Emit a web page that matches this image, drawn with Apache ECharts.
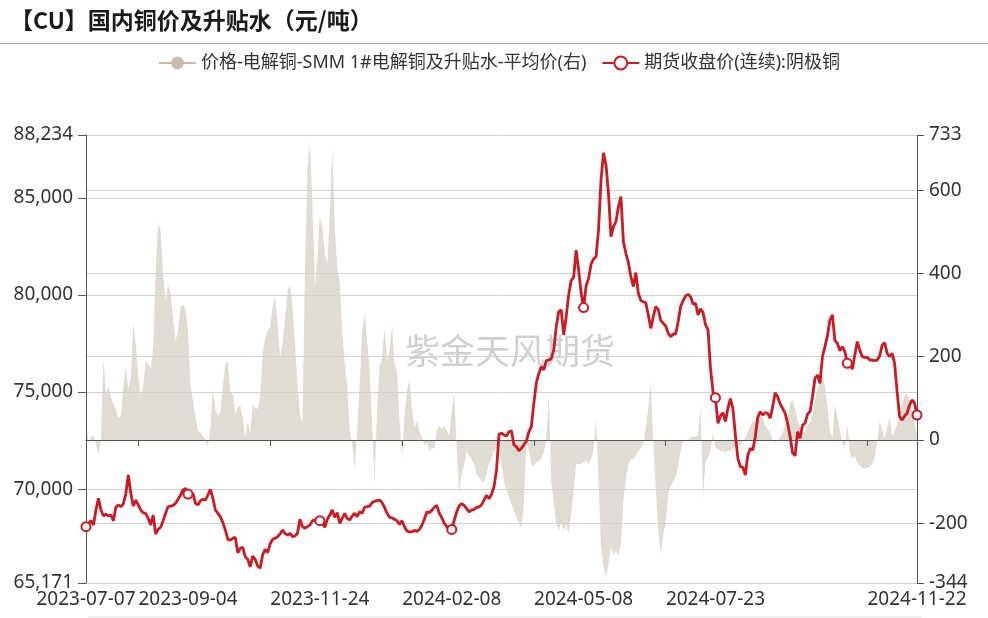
<!DOCTYPE html>
<html><head><meta charset="utf-8">
<script src="https://cdn.jsdelivr.net/npm/echarts@6/dist/echarts.min.js"></script>
<style>html,body{margin:0;padding:0;background:#fff}#c{width:988px;height:618px}</style>
</head><body><div id="c"></div>
<script>
// ---- trading calendar (SHFE) ----
const firstDay = '2023-07-07';
const lastDay = '2024-11-22';
const holidays = ['2023-09-29','2023-10-02','2023-10-03','2023-10-04','2023-10-05','2023-10-06',
  '2024-01-01','2024-02-09','2024-02-12','2024-02-13','2024-02-14','2024-02-15','2024-02-16',
  '2024-04-04','2024-04-05','2024-05-01','2024-05-02','2024-05-03','2024-06-10',
  '2024-09-16','2024-09-17','2024-10-01','2024-10-02','2024-10-03','2024-10-04','2024-10-07'];
function tradingDays(a, b, hol) {
  const hs = new Set(hol), out = [];
  let t = Date.parse(a + 'T00:00:00Z'); const end = Date.parse(b + 'T00:00:00Z');
  while (t <= end) {
    const d = new Date(t), w = d.getUTCDay(), s = d.toISOString().slice(0, 10);
    if (w !== 0 && w !== 6 && !hs.has(s)) out.push(s);
    t += 86400000;
  }
  return out;
}
const categories = tradingDays(firstDay, lastDay, holidays);

// ---- axis labels / ticks / markers ----
const xLabelDates = ['2023-07-07','2023-09-04','2023-11-24','2024-02-08','2024-05-08','2024-07-23','2024-11-22'];
const xTickDates = ['2023-08-07','2023-10-27','2024-01-11','2024-04-03','2024-06-25','2024-10-25'];
const markerDates = ['2023-07-07','2023-09-04','2023-11-24','2024-02-08','2024-05-08','2024-07-23','2024-10-15','2024-11-22'];
const leftRange = [65171, 88234];
const rightRange = [-344, 733];

// ---- series names ----
const nameSpot = '价格-电解铜-SMM 1#电解铜及升贴水-平均价(右)';
const nameFut = '期货收盘价(连续):阴极铜';

// ---- futures close (元/吨) ----
const futuresClose = [
68070,68240,68380,68160,68930,69530,68930,68620,68720,68620,
68670,68380,69070,69190,69100,69240,69750,70730,69790,69130,
69440,69190,68930,68790,68760,68500,68160,68670,67690,67930,
68040,68380,68760,69100,69130,69170,69270,69480,69700,69960,
70040,69750,69620,69790,69270,69190,69410,69480,69440,69700,
69990,69530,68930,68760,68590,68280,67900,67420,
67380,67470,67520,66730,66960,67010,66530,66390,66010,66560,
66390,66050,65930,66610,66900,66730,67180,67420,67470,67560,
67690,67900,67730,67640,67730,67560,67590,67730,68450,68070,
67990,68070,68160,68380,68410,68280,68380,68280,68040,68450,
68670,68930,68550,68790,68240,68500,68760,68500,68410,68620,
68760,68590,68840,68760,69070,69100,69130,
69310,69380,69410,69440,69310,69050,68760,68550,68520,68450,
68380,68190,68380,68070,67850,67800,67800,67880,67830,67930,
68140,68470,68830,68790,68910,69070,69170,68760,68530,68240,
68070,67950,67930,68410,68840,69150,69260,69170,69000,68830,
68930,68950,69070,69080,69200,69440,69680,69510,69740,70130,
70990,72840,72880,72790,72740,72960,
73010,72280,72190,71980,72100,72290,72460,72960,73220,74420,
75480,75960,76310,76140,76620,76650,76720,77170,78370,79140,
79230,77940,78880,80000,80740,80910,82310,81280,80120,79350,
80460,80840,81590,81850,81970,83340,85920,87320,86690,85230,
83000,83520,83770,84540,85060,82740,82140,81660,80940,80430,
81150,80080,
79710,79650,79600,78970,78280,78880,79400,79260,78680,78540,
78400,78020,77850,77990,77990,78620,79400,79710,79950,80030,
79910,79530,79570,78970,79290,79090,78470,78200,76220,75020,
74710,73390,73770,73940,73480,74160,74660,74160,72790,71590,
71160,71130,70730,71760,72100,72020,72700,73700,73990,73820,
73940,73910,73650,74250,74970,74760,74390,74160,73910,73390,
72700,71880,71710,72960,72620,73310,73390,73870,73990,74760,
75710,75880,75450,76820,77340,77890,78710,78970,77650,77510,
77130,77340,77080,76480,76620,76170,76910,77600,77170,76820,
76790,76790,76650,76650,76620,76650,76860,77420,77540,76990,
76820,76990,76480,75020,73730,73560,73770,73910,74330,74590,
74450,73820
];

// ---- SMM 1# spot premium/discount average (元/吨, right axis) ----
const spotPremium = [
54,-10,8,10,-10,-35,2,195,110,128,
103,87,74,54,58,127,179,123,147,279,
231,151,107,127,191,183,171,223,407,523,
503,399,335,375,351,295,239,263,319,325,
315,263,131,95,54,22,18,8,2,-18,
30,123,74,58,66,132,183,187,
115,110,62,78,82,54,6,42,18,87,
78,74,103,207,243,263,271,319,347,279,
199,231,295,359,373,319,231,135,62,38,
407,647,719,567,367,439,539,511,447,423,
543,703,511,415,375,263,183,127,22,-10,
-72,22,135,263,307,240,170,
38,-106,78,175,199,271,191,215,275,183,
167,54,-42,54,119,143,78,30,46,22,
6,-14,-6,-26,-18,-22,22,34,26,34,
22,10,70,115,-26,-126,-82,-58,-26,-38,
-46,-58,-82,-90,-98,-102,-82,-58,-46,-26,
-18,-26,-60,-100,-120,-138,
-154,-170,-186,-202,-210,-154,-2,-26,-58,-66,
-54,-50,-46,-30,-2,111,-98,-154,-202,-218,
-198,-218,-202,-226,-178,-122,-58,-58,-58,-54,
-50,-58,-46,-26,54,-98,-258,-306,-330,-298,
-258,-278,-266,-278,-250,-146,-94,-58,-46,-46,
-38,-26,
-20,-10,30,78,
139,-10,-114,-218,-274,-226,-202,-130,-112,-99,
-90,-62,-26,-2,0,0,6,8,8,10,
83,-138,-54,-42,-26,18,-18,-22,-26,-27,
-30,-26,-26,-19,-14,-10,-14,-2,5,18,
34,45,48,56,62,54,34,26,18,0,
-6,-2,5,18,38,54,
90,95,74,46,34,22,18,34,42,62,
95,123,139,151,131,78,22,6,87,54,
22,-6,-22,38,-30,-46,-38,-54,-62,-67,
-70,-67,-64,-58,-42,-6,46,22,6,30,
54,10,22,38,58,87,107,111,95,70,
38,14
];

const labelSet = new Set(xLabelDates);
const tickSet = new Set(xTickDates);
const markerSet = new Set(markerDates);
const RED = '#cc1a22';
const AXIS = '#555';
const SPLIT = '#d2d2d2';

const chart = echarts.init(document.getElementById('c'), null, {renderer: 'canvas'});
chart.setOption({
  animation: false,
  backgroundColor: '#fff',
  title: {
    text: '【CU】国内铜价及升贴水（元/吨）', left: 5, top: 4,
    textStyle: {fontSize: 23, fontWeight: 'bold', color: '#1a1a1a', fontFamily: 'Noto Sans CJK SC'}
  },
  legend: {
    left: 153, top: 49, itemWidth: 37, itemHeight: 16, itemGap: 15,
    textStyle: {fontSize: 18, color: '#333', fontFamily: '"Noto Sans", "Noto Sans CJK SC"'},
    data: [
      {name: nameSpot, itemStyle: {color: '#c9bca8'}, lineStyle: {color: '#c9bca8', width: 2}},
      {name: nameFut}
    ]
  },
  grid: {left: 86, right: 71, top: 135, bottom: 35, containLabel: false, outerBoundsMode: 'none'},
  xAxis: [
    {
      type: 'category', data: categories, boundaryGap: false, position: 'bottom',
      axisLine: {show: false, onZero: false}, axisTick: {show: false}, splitLine: {show: false},
      axisLabel: {interval: (i, v) => labelSet.has(v), fontSize: 19, color: '#333', margin: 7, fontFamily: 'Noto Sans'}
    },
    {
      type: 'category', data: categories, boundaryGap: false, position: 'bottom', z: 4,
      axisLine: {show: true, onZero: true, onZeroAxisIndex: 1, lineStyle: {color: AXIS, width: 1}},
      axisTick: {show: true, interval: (i, v) => tickSet.has(v), length: 6, lineStyle: {color: AXIS}},
      axisLabel: {show: false}, splitLine: {show: false}
    }
  ],
  yAxis: [
    {
      type: 'value', position: 'left', min: leftRange[0], max: leftRange[1], splitNumber: 5, z: 3,
      axisLine: {show: true, lineStyle: {color: AXIS, width: 1}},
      axisTick: {show: true, length: 8, lineStyle: {color: AXIS}},
      axisLabel: {fontSize: 19, color: '#333', margin: 13, fontFamily: 'Noto Sans',
        formatter: v => Math.round(v).toLocaleString('en-US')},
      splitLine: {show: true, lineStyle: {color: SPLIT, width: 1}}
    },
    {
      type: 'value', position: 'right', min: rightRange[0], max: rightRange[1], splitNumber: 5, z: 3,
      axisLine: {show: true, lineStyle: {color: AXIS, width: 1}},
      axisTick: {show: true, length: 7, lineStyle: {color: AXIS}},
      axisLabel: {fontSize: 19, color: '#333', margin: 12, fontFamily: 'Noto Sans',
        formatter: v => String(Math.round(v))},
      splitLine: {show: true, lineStyle: {color: SPLIT, width: 1}}
    }
  ],
  series: [
    {
      name: nameSpot, type: 'line', xAxisIndex: 0, yAxisIndex: 1, data: spotPremium,
      symbol: 'circle', showSymbol: false, silent: true, z: 2,
      lineStyle: {width: 0, color: '#e1dcd3'}, itemStyle: {color: '#c9bca8'},
      areaStyle: {color: '#e1dcd3', opacity: 1}
    },
    {
      name: nameFut, type: 'line', xAxisIndex: 0, yAxisIndex: 0, data: futuresClose, z: 5,
      symbol: 'emptyCircle', showAllSymbol: true,
      symbolSize: (v, p) => markerSet.has(categories[p.dataIndex]) ? 9 : 0,
      lineStyle: {width: 2.8, color: RED}, itemStyle: {color: RED, borderWidth: 1.5}
    }
  ],
  graphic: [
    {type: 'line', shape: {x1: 0, y1: 43.5, x2: 988, y2: 43.5}, style: {stroke: '#aaa', lineWidth: 1}, silent: true},
    {type: 'line', shape: {x1: 88, y1: 617, x2: 922, y2: 617}, style: {stroke: '#e2e2e2', lineWidth: 1}, silent: true},
    {type: 'text', left: 405, top: 333, z: 3, silent: true,
      style: {text: '紫金天风期货', fontSize: 35, fill: 'rgba(150,150,150,0.45)', fontFamily: 'Noto Sans CJK SC'}}
  ]
});
</script></body></html>
